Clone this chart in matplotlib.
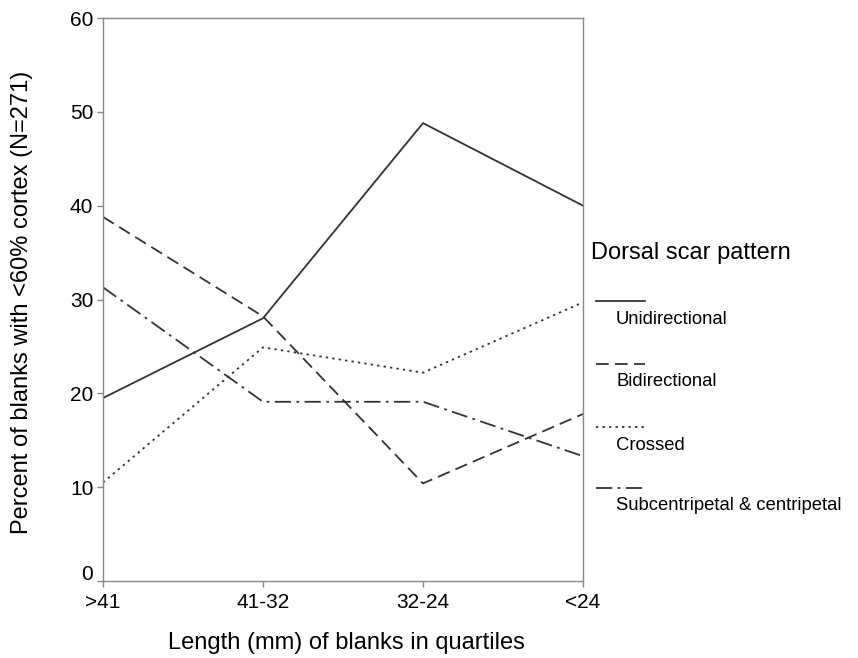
import matplotlib
matplotlib.use("Agg")
import matplotlib.pyplot as plt
import matplotlib.transforms as mtransforms
from matplotlib.lines import Line2D

categories = [">41", "41-32", "32-24", "<24"]
unidirectional = [19.5, 28.0, 48.8, 40.0]
bidirectional = [38.8, 28.2, 10.4, 17.8]
crossed = [10.5, 24.9, 22.2, 29.7]
subcentripetal = [31.3, 19.1, 19.1, 13.3]
series_names = ["Unidirectional", "Bidirectional", "Crossed", "Subcentripetal & centripetal"]
yticks = [0, 10, 20, 30, 40, 50, 60]

plt.rcParams['font.family'] = ['Liberation Sans', 'DejaVu Sans']

W, H = 858, 658
fig = plt.figure(figsize=(W / 100, H / 100), dpi=100)
ax = fig.add_axes([103 / W, (H - 581) / H, (583 - 103) / W, (581 - 18) / H])

lc = "#333333"
styles = [
    dict(linestyle="-"),
    dict(linestyle=(0, (7, 3.5))),
    dict(linestyle=(0, (1.3, 2.3))),
    dict(linestyle=(0, (9, 3, 1.5, 3))),
]
series = [unidirectional, bidirectional, crossed, subcentripetal]
x = list(range(len(categories)))
for vals, st in zip(series, styles):
    ax.plot(x, vals, color=lc, linewidth=1.3, **st)

ax.set_xlim(0, 3)
ax.set_ylim(0, 60)
ax.set_xticks(x)
ax.set_xticklabels(categories, fontsize=15)
ax.set_yticks(yticks)
ax.set_yticklabels([str(v) for v in yticks], fontsize=15)
for s in ax.spines.values():
    s.set_color("#888888")
    s.set_linewidth(1.0)
ax.tick_params(axis="both", direction="out", length=4, width=1.0, color="#888888", pad=3)
ax.tick_params(axis="x", pad=5)

# the "0" label sits slightly above the axis in the reference
lbl0 = ax.get_yticklabels()[0]
lbl0.set_transform(lbl0.get_transform() + mtransforms.ScaledTranslation(0, 9 / 100, fig.dpi_scale_trans))

fig.text(346 / W, 1 - 643 / H, "Length (mm) of blanks in quartiles", fontsize=17,
         ha="center", va="center")
fig.text(22 / W, 1 - 302 / H, "Percent of blanks with <60% cortex (N=271)", fontsize=17,
         ha="center", va="center", rotation=90)

# Legend drawn manually
fig.text(591 / W, 1 - 253 / H, "Dorsal scar pattern", fontsize=17, ha="left", va="center")
line_y = [301, 364, 427, 488]
for name, st, ly in zip(series_names, styles, line_y):
    fig.add_artist(Line2D([596 / W, 645 / W], [1 - ly / H, 1 - ly / H],
                          transform=fig.transFigure, color=lc, linewidth=1.3, **st))
    fig.text(616 / W, 1 - (ly + 18) / H, name, fontsize=13.3, ha="left", va="center")

fig.savefig("out.png", dpi=100)
